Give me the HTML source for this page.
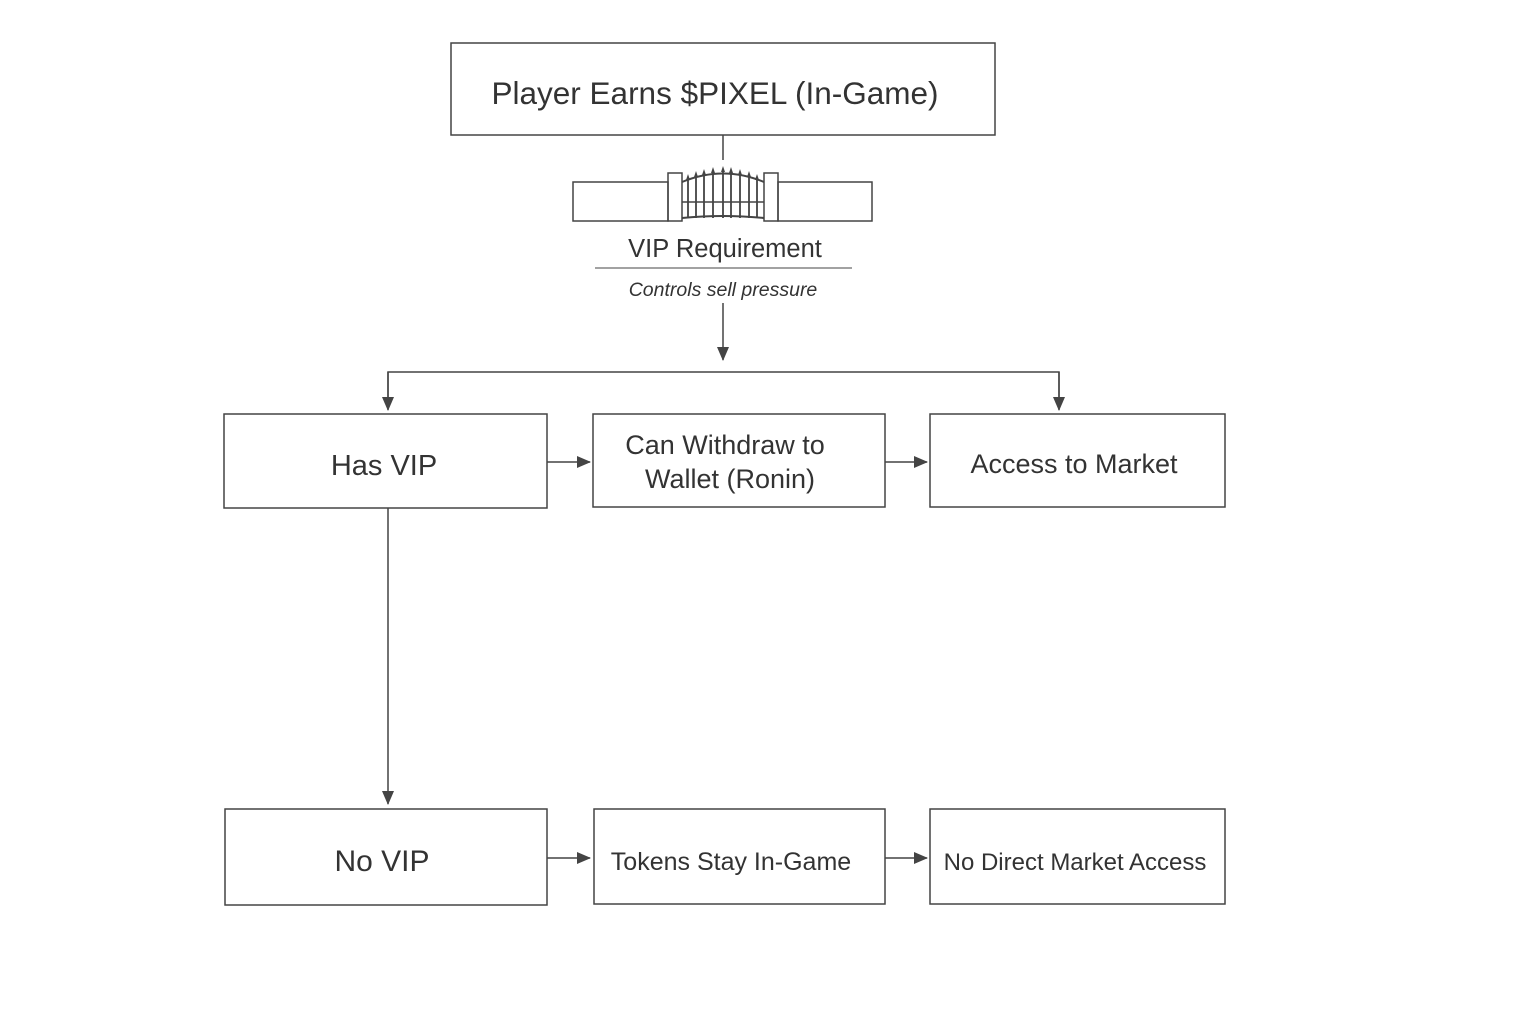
<!DOCTYPE html>
<html><head><meta charset="utf-8"><style>
body{margin:0;background:#fff;}
svg text{font-family:"Liberation Sans",sans-serif;fill:#333;}
</style></head><body>
<svg width="1536" height="1024" viewBox="0 0 1536 1024" xmlns="http://www.w3.org/2000/svg">
<defs><marker id="a" markerWidth="14" markerHeight="12" refX="13" refY="6" orient="auto" markerUnits="userSpaceOnUse"><path d="M0,0 L14,6 L0,12 z" fill="#444"/></marker></defs>
<g fill="none" stroke="#444" stroke-width="1.5">
<rect x="451" y="43" width="544" height="92"/>
<line x1="723" y1="135" x2="723" y2="160"/>
<rect x="573" y="182" width="95" height="39"/>
<rect x="778" y="182" width="94" height="39"/>
<rect x="668" y="173" width="14" height="48"/>
<rect x="764" y="173" width="14" height="48"/>
<path d="M682,182 Q723,165 764,182" stroke-width="2"/>
<path d="M682,218 Q723,214 764,218" stroke-width="2"/>
<line x1="682" y1="202" x2="764" y2="202"/>
<path d="M688,180 V218 M696,177 V218 M704,175 V218 M713,173 V218 M723,172 V218 M731,173 V218 M740,175 V218 M749,177 V218 M757,180 V218" stroke-width="1.8"/>
<line x1="595" y1="268" x2="852" y2="268" stroke-width="1"/>
<line x1="723" y1="303" x2="723" y2="360" marker-end="url(#a)"/>
<path d="M388,408 V372 H1059 V408" />
<line x1="388" y1="372" x2="388" y2="410" marker-end="url(#a)"/>
<line x1="1059" y1="372" x2="1059" y2="410" marker-end="url(#a)"/>
<rect x="224" y="414" width="323" height="94"/>
<rect x="593" y="414" width="292" height="93"/>
<rect x="930" y="414" width="295" height="93"/>
<line x1="547" y1="462" x2="590" y2="462" marker-end="url(#a)"/>
<line x1="885" y1="462" x2="927" y2="462" marker-end="url(#a)"/>
<line x1="388" y1="508" x2="388" y2="804" marker-end="url(#a)"/>
<rect x="225" y="809" width="322" height="96"/>
<rect x="594" y="809" width="291" height="95"/>
<rect x="930" y="809" width="295" height="95"/>
<line x1="547" y1="858" x2="590" y2="858" marker-end="url(#a)"/>
<line x1="885" y1="858" x2="927" y2="858" marker-end="url(#a)"/>
</g>
<g fill="#444"><path d="M686,180 l2,-6 l2,6z M694,177 l2,-6 l2,6z M702,175 l2,-6 l2,6z M711,173 l2,-6 l2,6z M721,172 l2,-6 l2,6z M729,173 l2,-6 l2,6z M738,175 l2,-6 l2,6z M747,177 l2,-6 l2,6z M755,180 l2,-6 l2,6z"/></g>
<text x="715" y="104" font-size="31.5" text-anchor="middle">Player Earns $PIXEL (In-Game)</text>
<text x="725" y="257" font-size="25.5" text-anchor="middle">VIP Requirement</text>
<text x="723" y="296" font-size="19.5" font-style="italic" text-anchor="middle">Controls sell pressure</text>
<text x="384" y="475" font-size="29" text-anchor="middle">Has VIP</text>
<text x="725" y="454" font-size="27" text-anchor="middle">Can Withdraw to</text>
<text x="730" y="488" font-size="27" text-anchor="middle">Wallet (Ronin)</text>
<text x="1074" y="473" font-size="27" text-anchor="middle">Access to Market</text>
<text x="382" y="871" font-size="30" text-anchor="middle">No VIP</text>
<text x="731" y="870" font-size="25" text-anchor="middle">Tokens Stay In-Game</text>
<text x="1075" y="870" font-size="24" text-anchor="middle">No Direct Market Access</text>
</svg>
</body></html>
